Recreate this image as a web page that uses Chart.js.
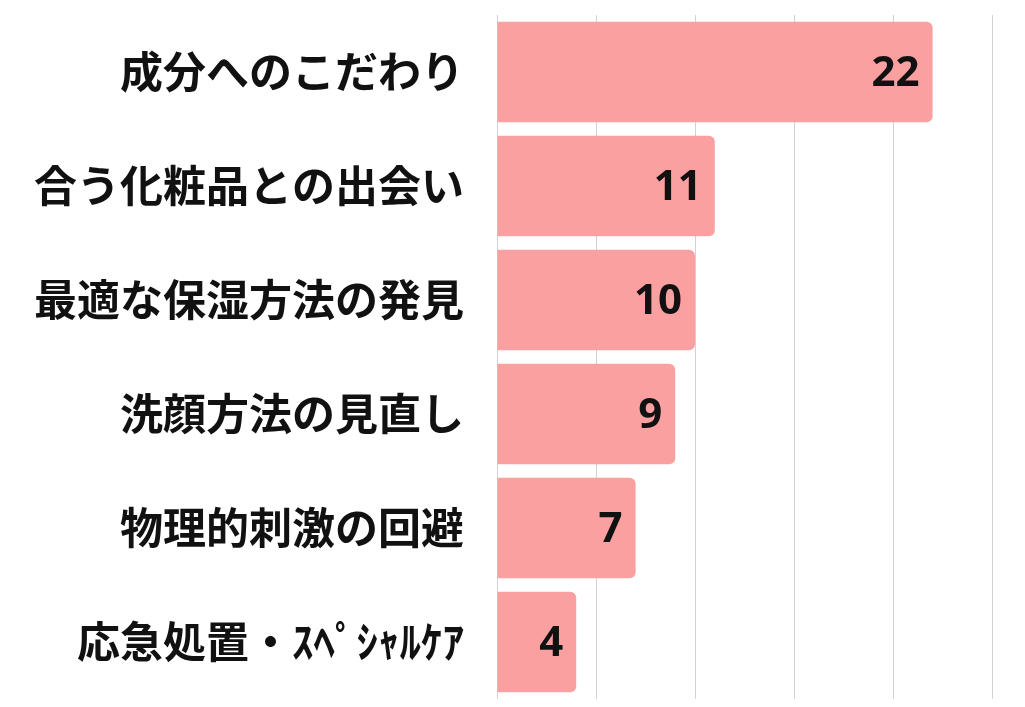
<!DOCTYPE html>
<html>
<head>
<meta charset="utf-8">
<script src="https://cdn.jsdelivr.net/npm/chart.js@4"></script>
<style>
  html, body { margin: 0; padding: 0; background: #fff; }
  #wrap { width: 1025px; height: 707px; position: relative; }
</style>
</head>
<body>
<div id="wrap"><canvas id="myChart"></canvas></div>
<script>
const categories = ['成分へのこだわり', '合う化粧品との出会い', '最適な保湿方法の発見', '洗顔方法の見直し', '物理的刺激の回避', '応急処置・ｽﾍﾟｼｬﾙｹｱ'];
const counts = [22, 11, 10, 9, 7, 4];

// value labels at the end of each bar
const valueLabels = {
  id: 'valueLabels',
  afterDatasetsDraw(chart) {
    const ctx = chart.ctx;
    const meta = chart.getDatasetMeta(0);
    ctx.save();
    ctx.font = 'bold 42px "Open Sans", "Noto Sans", sans-serif';
    ctx.fillStyle = '#111';
    ctx.textAlign = 'right';
    ctx.textBaseline = 'middle';
    meta.data.forEach((bar, i) => {
      ctx.fillText(String(counts[i]), bar.x - 13, bar.y + 2);
    });
    ctx.restore();
  }
};

const c1 = document.getElementById('myChart');

new Chart(c1, {
  type: 'bar',
  data: {
    labels: categories,
    datasets: [{
      data: counts,
      backgroundColor: 'rgb(250, 160, 160)',
      borderRadius: 6,
      borderSkipped: 'start',
      barPercentage: 0.88,
      categoryPercentage: 1
    }]
  },
  options: {
    indexAxis: 'y',
    maintainAspectRatio: false,
    animation: false,
    layout: { padding: { top: 15, bottom: 8, right: 33, left: 0 } },
    plugins: {
      legend: { display: false },
      tooltip: { enabled: false }
    },
    scales: {
      x: {
        min: 0,
        max: 25,
        ticks: { display: false, stepSize: 5 },
        grid: { color: '#d2d2d2', lineWidth: 1, drawTicks: false },
        border: { display: false },
        afterFit(scale) { scale.paddingLeft = 0; scale.paddingRight = 0; }
      },
      y: {
        grid: { display: false, drawTicks: false },
        border: { display: false },
        ticks: {
          color: '#111',
          padding: 33,
          font: { size: 43, weight: 'bold', family: '"Noto Sans CJK JP", sans-serif' }
        },
        afterFit(scale) {
          scale.width = 497;
          scale.paddingTop = 0;
          scale.paddingBottom = 0;
        }
      }
    }
  },
  plugins: [valueLabels]
});
</script>
</body>
</html>
